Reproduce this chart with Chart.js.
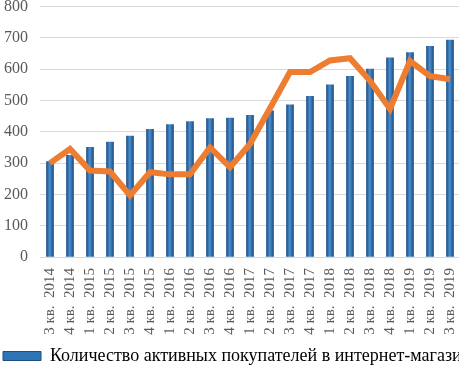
<!DOCTYPE html>
<html>
<head>
<meta charset="utf-8">
<script src="https://cdn.jsdelivr.net/npm/chart.js@4/dist/chart.umd.min.js"></script>
<style>
  html, body { margin: 0; padding: 0; background: #fff; overflow: hidden; }
  #wrap { position: absolute; left: 0; top: -15px; width: 480px; height: 390px; }
</style>
</head>
<body>
<div id="wrap"><canvas id="chartBuyers" width="480" height="390"></canvas></div>
<script>
const categories = [
    '3 кв. 2014', '4 кв. 2014', '1 кв. 2015', '2 кв. 2015', '3 кв. 2015', '4 кв. 2015',
    '1 кв. 2016', '2 кв. 2016', '3 кв. 2016', '4 кв. 2016', '1 кв. 2017', '2 кв. 2017',
    '3 кв. 2017', '4 кв. 2017', '1 кв. 2018', '2 кв. 2018', '3 кв. 2018', '4 кв. 2018',
    '1 кв. 2019', '2 кв. 2019', '3 кв. 2019'
];
const activeBuyers = [305, 325, 350, 367, 386, 408, 423, 433, 442, 444, 453, 467, 486, 513, 550, 577, 600, 636, 653, 673, 693];
const secondSeries = [300, 345, 276, 273, 197, 271, 264, 264, 350, 287, 361, 475, 591, 591, 628, 635, 563, 473, 626, 578, 568];
const yMin = 0, yMax = 800, yStep = 100;

const serif = "'Liberation Serif', 'Times New Roman', serif";

const ctxBuyers = document.getElementById('chartBuyers').getContext('2d');

// cylinder-like shading across each bar
function barFill(c) {
    const chart = c.chart;
    const x = chart.scales.x ? chart.scales.x.getPixelForValue(c.dataIndex) : null;
    if (x == null || isNaN(x)) return '#2e75b6';
    const g = chart.ctx.createLinearGradient(x - 3.5, 0, x + 3.5, 0);
    g.addColorStop(0, '#1d4f85');
    g.addColorStop(0.45, '#4a8fd0');
    g.addColorStop(1, '#1d4f85');
    return g;
}

new Chart(ctxBuyers, {
    type: 'bar',
    data: {
        labels: categories,
        datasets: [{
            label: 'Количество активных покупателей в интернет-магазинах',
            data: activeBuyers,
            backgroundColor: barFill,
            barThickness: 7,
            order: 1
        }, {
            type: 'line',
            label: 'line',
            data: secondSeries,
            borderColor: '#ed7d31',
            borderWidth: 6,
            pointRadius: 0,
            tension: 0,
            order: 0
        }]
    },
    options: {
        responsive: false,
        animation: false,
        layout: { padding: { left: 0, right: 20, top: 0, bottom: 0 } },
        scales: {
            x: {
                afterFit: s => { s.height = 87; },
                grid: { display: false, drawTicks: false },
                border: { color: '#d9d9d9' },
                ticks: {
                    minRotation: 90,
                    maxRotation: 90,
                    autoSkip: false,
                    padding: 11,
                    color: '#595959',
                    font: { family: serif, size: 15 },
                    callback: (v, i) => categories[i].replace(/ (\d{4})$/, '  $1')
                }
            },
            y: {
                min: yMin,
                max: yMax,
                afterFit: s => { s.width = 40; },
                grid: { color: '#d9d9d9', drawTicks: false },
                border: { display: false },
                ticks: {
                    stepSize: yStep,
                    padding: 12,
                    color: '#595959',
                    font: { family: serif, size: 16 }
                }
            }
        },
        plugins: {
            tooltip: { enabled: false },
            legend: {
                position: 'bottom',
                align: 'start',
                labels: {
                    boxWidth: 38,
                    boxHeight: 9,
                    padding: 3,
                    color: '#404040',
                    font: { family: serif, size: 18 },
                    generateLabels: chart => [{
                        text: chart.data.datasets[0].label,
                        fillStyle: '#2e75b6',
                        strokeStyle: '#1d4f85',
                        lineWidth: 1,
                        datasetIndex: 0
                    }]
                }
            }
        }
    }
});
</script>
</body>
</html>
